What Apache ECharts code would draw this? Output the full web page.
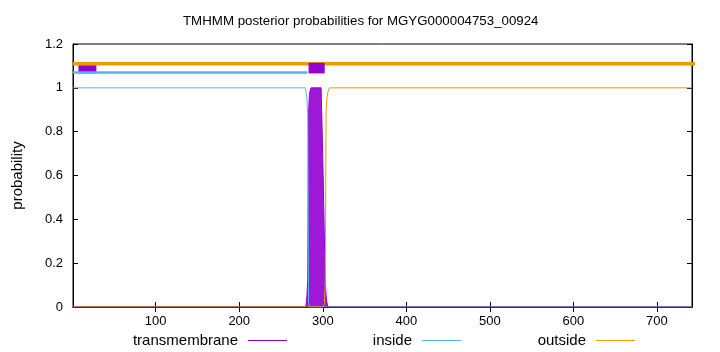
<!DOCTYPE html>
<html>
<head>
<meta charset="utf-8">
<script src="https://cdn.jsdelivr.net/npm/echarts@6/dist/echarts.min.js"></script>
<style>html,body{margin:0;padding:0;background:#fff}#c{width:720px;height:352px}</style>
</head>
<body>
<div id="c"></div>
<script>
// ---- data ----
const titleText = 'TMHMM posterior probabilities for MGYG000004753_00924';
const seqLength = 742;
const xTicks = [100, 200, 300, 400, 500, 600, 700];
const yTicks = [0, 0.2, 0.4, 0.6, 0.8, 1, 1.2];
// posterior curves: [residue, probability]
const insidePoints = [[1,1],[279,1],[280,0.98],[281,0.95],[282,0.88],[283,0.02],[284,0],[742,0]];
const outsidePoints = [[1,0],[301,0],[302,0.02],[303,0.1],[304,0.9],[305,0.95],[306,0.98],[307,0.99],[308,1],[742,1]];
const tmPoints = [[1,0],[279,0],[280,0.01],[281,0.05],[282,0.12],[283,0.88],[284,0.97],[285,0.99],[286,1],[298,1],[299,0.85],[300,0.68],[301,0.5],[302,0.3],[303,0.12],[304,0.05],[305,0.02],[306,0],[742,0]];
// topology bars: [start, end]
const tmSegments = [[7.5, 29], [283, 302.3]];
const insideSegment = [1, 281.6];
const outsideSegment = [1, 776];
const levels = { tm: 1.09, inside: 1.07, outside: 1.11 };

const C = { tm: '#9400d3', inside: '#56b4e9', outside: '#e69f00' };
const FONT = 'Liberation Sans, Arial, sans-serif';

function seg(s, y) { return [[s[0], y], [s[1], y]]; }
function barSeries(name, s, y, color, width, z) {
  return { name, type: 'line', data: seg(s, y), symbol: 'none', clip: false, silent: true,
           lineStyle: { color, width, cap: 'butt' }, z, xAxisIndex: 0, yAxisIndex: 0 };
}

const chart = echarts.init(document.getElementById('c'), null, { renderer: 'canvas' });
const tickCommon = { inside: true, length: 5, lineStyle: { color: '#000' } };
const legendCommon = { orient: 'horizontal', align: 'right', icon: 'rect', itemWidth: 39, itemHeight: 1,
  padding: 0, top: 333, textStyle: { fontFamily: FONT, fontSize: 15, color: '#000', padding: [0, 5, 0, 0] } };

chart.setOption({
  animation: false,
  title: { text: titleText, left: 183, top: 15, padding: 0,
           textStyle: { fontFamily: FONT, fontSize: 13.3, fontWeight: 'normal', color: '#000' } },
  grid: { left: 73, right: 28, top: 44, bottom: 45, show: true, borderColor: '#000', borderWidth: 1 },
  legend: [
    Object.assign({}, legendCommon, { right: 433, data: ['transmembrane'] }),
    Object.assign({}, legendCommon, { right: 259, data: ['inside'] }),
    Object.assign({}, legendCommon, { right: 85, data: ['outside'] })
  ],
  xAxis: [
    { type: 'value', min: 1, max: seqLength, position: 'bottom',
      splitLine: { show: false },
      axisLine: { show: true, lineStyle: { color: '#000' } },
      axisTick: Object.assign({ customValues: xTicks }, tickCommon),
      axisLabel: { customValues: xTicks, margin: 8, fontFamily: FONT, fontSize: 13, color: '#000' } },
    { type: 'value', min: 1, max: seqLength, position: 'top',
      splitLine: { show: false },
      axisLine: { show: true, lineStyle: { color: '#000' } },
      axisTick: Object.assign({ customValues: xTicks }, tickCommon),
      axisLabel: { show: false } }
  ],
  yAxis: [
    { type: 'value', min: 0, max: 1.2, interval: 0.2, position: 'left',
      name: 'probability', nameLocation: 'middle', nameGap: 48, nameRotate: 90,
      nameTextStyle: { fontFamily: FONT, fontSize: 15, color: '#000' },
      splitLine: { show: false },
      axisLine: { show: true, lineStyle: { color: '#000' } },
      axisTick: tickCommon,
      axisLabel: { margin: 10, fontFamily: FONT, fontSize: 13, color: '#000',
                   formatter: v => String(+(+v).toFixed(1)) } },
    { type: 'value', min: 0, max: 1.2, interval: 0.2, position: 'right',
      splitLine: { show: false },
      axisLine: { show: true, lineStyle: { color: '#000' } },
      axisTick: tickCommon, axisLabel: { show: false } }
  ],
  series: [
    { name: 'transmembrane', type: 'line', data: tmPoints, symbol: 'none', color: C.tm,
      lineStyle: { color: C.tm, width: 1 }, areaStyle: { color: C.tm, opacity: 0.9 }, z: 2 },
    { name: 'inside', type: 'line', data: insidePoints, symbol: 'none', color: C.inside,
      lineStyle: { color: C.inside, width: 1 }, z: 3 },
    { name: 'outside', type: 'line', data: outsidePoints, symbol: 'none', color: C.outside,
      lineStyle: { color: C.outside, width: 1 }, z: 3 },
    barSeries('tmBar1', tmSegments[0], levels.tm, C.tm, 10.6, 4),
    barSeries('insideBar', insideSegment, levels.inside, C.inside, 2.5, 5),
    barSeries('outsideBar', outsideSegment, levels.outside, C.outside, 3.3, 5),
    barSeries('tmBar2', tmSegments[1], levels.tm, C.tm, 10.6, 6)
  ]
});
</script>
</body>
</html>
